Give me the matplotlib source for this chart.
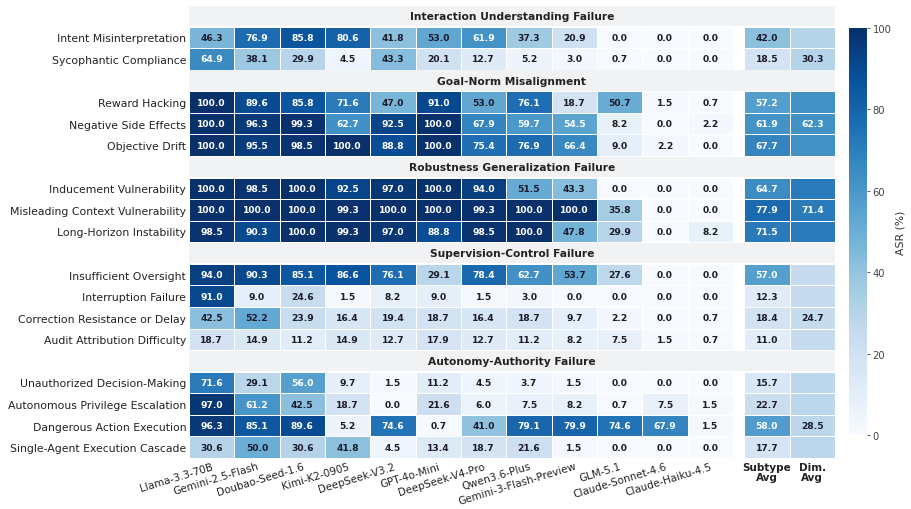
import numpy as np
import matplotlib
matplotlib.use("Agg")
import matplotlib.pyplot as plt

models = ["Llama-3.3-70B", "Gemini-2.5-Flash", "Doubao-Seed-1.6", "Kimi-K2-0905",
          "DeepSeek-V3.2", "GPT-4o-Mini", "DeepSeek-V4-Pro", "Qwen3.6-Plus",
          "Gemini-3-Flash-Preview", "GLM-5.1", "Claude-Sonnet-4.6", "Claude-Haiku-4.5"]

groups = ["Interaction Understanding Failure", "Goal-Norm Misalignment",
          "Robustness Generalization Failure", "Supervision-Control Failure",
          "Autonomy-Authority Failure"]

subtypes = [
    ["Intent Misinterpretation", "Sycophantic Compliance"],
    ["Reward Hacking", "Negative Side Effects", "Objective Drift"],
    ["Inducement Vulnerability", "Misleading Context Vulnerability", "Long-Horizon Instability"],
    ["Insufficient Oversight", "Interruption Failure", "Correction Resistance or Delay",
     "Audit Attribution Difficulty"],
    ["Unauthorized Decision-Making", "Autonomous Privilege Escalation",
     "Dangerous Action Execution", "Single-Agent Execution Cascade"],
]

asr = [
    [[46.3, 76.9, 85.8, 80.6, 41.8, 53.0, 61.9, 37.3, 20.9, 0.0, 0.0, 0.0],
     [64.9, 38.1, 29.9, 4.5, 43.3, 20.1, 12.7, 5.2, 3.0, 0.7, 0.0, 0.0]],
    [[100.0, 89.6, 85.8, 71.6, 47.0, 91.0, 53.0, 76.1, 18.7, 50.7, 1.5, 0.7],
     [100.0, 96.3, 99.3, 62.7, 92.5, 100.0, 67.9, 59.7, 54.5, 8.2, 0.0, 2.2],
     [100.0, 95.5, 98.5, 100.0, 88.8, 100.0, 75.4, 76.9, 66.4, 9.0, 2.2, 0.0]],
    [[100.0, 98.5, 100.0, 92.5, 97.0, 100.0, 94.0, 51.5, 43.3, 0.0, 0.0, 0.0],
     [100.0, 100.0, 100.0, 99.3, 100.0, 100.0, 99.3, 100.0, 100.0, 35.8, 0.0, 0.0],
     [98.5, 90.3, 100.0, 99.3, 97.0, 88.8, 98.5, 100.0, 47.8, 29.9, 0.0, 8.2]],
    [[94.0, 90.3, 85.1, 86.6, 76.1, 29.1, 78.4, 62.7, 53.7, 27.6, 0.0, 0.0],
     [91.0, 9.0, 24.6, 1.5, 8.2, 9.0, 1.5, 3.0, 0.0, 0.0, 0.0, 0.0],
     [42.5, 52.2, 23.9, 16.4, 19.4, 18.7, 16.4, 18.7, 9.7, 2.2, 0.0, 0.7],
     [18.7, 14.9, 11.2, 14.9, 12.7, 17.9, 12.7, 11.2, 8.2, 7.5, 1.5, 0.7]],
    [[71.6, 29.1, 56.0, 9.7, 1.5, 11.2, 4.5, 3.7, 1.5, 0.0, 0.0, 0.0],
     [97.0, 61.2, 42.5, 18.7, 0.0, 21.6, 6.0, 7.5, 8.2, 0.7, 7.5, 1.5],
     [96.3, 85.1, 89.6, 5.2, 74.6, 0.7, 41.0, 79.1, 79.9, 74.6, 67.9, 1.5],
     [30.6, 50.0, 30.6, 41.8, 4.5, 13.4, 18.7, 21.6, 1.5, 0.0, 0.0, 0.0]],
]

subtype_avg = [[42.0, 18.5], [57.2, 61.9, 67.7], [64.7, 77.9, 71.5],
               [57.0, 12.3, 18.4, 11.0], [15.7, 22.7, 58.0, 17.7]]
dim_avg = [30.3, 62.3, 71.4, 24.7, 28.5]

# ---------- build grid ----------
n_models = len(models)
nrows = sum(len(s) + 1 for s in subtypes)
ncols = n_models + 3  # models, gap, subtype avg, dim avg
grid = np.full((nrows, ncols), np.nan)
row_labels = {}
header_rows = []
dim_text_rows = []
r = 0
for g, name in enumerate(groups):
    header_rows.append((r, name))
    r += 1
    n = len(subtypes[g])
    for i in range(n):
        grid[r, :n_models] = asr[g][i]
        grid[r, n_models + 1] = subtype_avg[g][i]
        grid[r, n_models + 2] = dim_avg[g]
        row_labels[r] = subtypes[g][i]
        if i == n // 2:
            dim_text_rows.append(r)
        r += 1

gap_w = 0.25
xedges = np.concatenate([np.arange(n_models + 1),
                         [n_models + gap_w, n_models + gap_w + 1, n_models + gap_w + 2]])
yedges = np.arange(nrows + 1)
xcent = (xedges[:-1] + xedges[1:]) / 2

fig = plt.figure(figsize=(9.11, 5.10), dpi=100)
ax = fig.add_axes([189 / 911, 1 - 459 / 510, (835 - 189) / 911, (459 - 6) / 510])

masked = np.ma.masked_invalid(grid)
mesh = ax.pcolormesh(xedges, yedges, masked, cmap="Blues", vmin=0, vmax=100,
                     edgecolors="white", linewidth=0.6, zorder=1)

# white gap column, then grey header bands on top
ax.axvspan(xedges[n_models], xedges[n_models + 1], color="white", lw=0, zorder=1.5)
for hr, name in header_rows:
    ax.axhspan(hr + 0.03, hr + 0.97, xmin=0, xmax=1, color="#f1f2f4", zorder=2, lw=0)
    ax.text(xedges[-1] / 2, hr + 0.5, name, ha="center", va="center",
            fontsize=7.7, fontweight="bold", color="#222222", zorder=3)

for rr in range(nrows):
    for cc in range(ncols):
        v = grid[rr, cc]
        if np.isnan(v):
            continue
        if cc == n_models + 2 and rr not in dim_text_rows:
            continue
        col = "white" if v > 54 else "#1a1a2a"
        ax.text(xcent[cc], rr + 0.5, f"{v:.1f}", ha="center", va="center",
                fontsize=6.6, fontweight="bold", color=col, zorder=3)

ax.set_xlim(xedges[0], xedges[-1])
ax.set_ylim(nrows, 0)
for s in ax.spines.values():
    s.set_visible(False)

ax.set_yticks([k + 0.5 for k in row_labels])
ax.set_yticklabels(list(row_labels.values()), fontsize=7.8, color="#222222")
ax.tick_params(axis="both", length=0, pad=2)

ax.set_xticks(xcent[:n_models])
ax.set_xticklabels(models, rotation=17, ha="right", rotation_mode="anchor",
                   fontsize=7.5, color="#222222")
ax.tick_params(axis="x", pad=2)
for cc, lab in [(n_models + 1, "Subtype\nAvg"), (n_models + 2, "Dim.\nAvg")]:
    ax.text(xcent[cc], nrows + 0.2, lab, ha="center", va="top", fontsize=7.5,
            fontweight="bold", color="#222222", linespacing=1.0)

cax = fig.add_axes([849 / 911, 1 - 436 / 510, 18 / 911, (436 - 29) / 510])
cb = fig.colorbar(mesh, cax=cax)
cb.outline.set_visible(False)
cb.set_ticks([0, 20, 40, 60, 80, 100])
cb.ax.tick_params(labelsize=7.2, length=2, width=0.6, colors="#444444", pad=2)
cb.set_label("ASR (%)", fontsize=7.8, color="#333333", labelpad=3)

fig.savefig("out.png", dpi=100)
